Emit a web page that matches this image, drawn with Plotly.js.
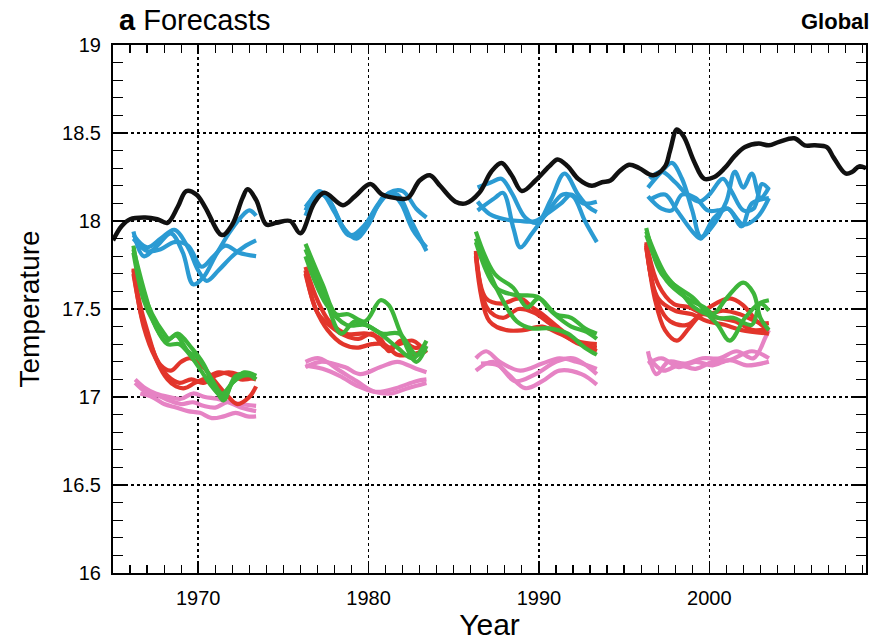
<!DOCTYPE html>
<html>
<head>
<meta charset="utf-8">
<script src="https://cdn.plot.ly/plotly-3.0.1.min.js"></script>
<style>html,body{margin:0;padding:0;background:#fff;}#chart{width:874px;height:641px;}</style>
</head>
<body>
<div id="chart"></div>
<script>
// Observed global temperature (black)
const obsYear = [1965.0,1965.5,1966.0,1966.9,1967.6,1968.2,1968.8,1969.3,1969.9,1970.4,1971.4,1972.0,1972.6,1972.9,1973.4,1974.0,1974.6,1975.4,1976.0,1976.8,1977.4,1978.5,1979.2,1980.1,1980.8,1981.6,1982.3,1983.0,1983.6,1984.2,1985.1,1985.7,1986.5,1987.2,1987.8,1988.4,1989.0,1989.8,1990.6,1991.1,1991.7,1992.3,1993.1,1993.7,1994.2,1994.7,1995.3,1995.9,1996.7,1997.4,1997.7,1998.1,1998.5,1999.1,1999.7,2000.3,2000.9,2001.5,2002.1,2002.9,2003.5,2004.1,2005.0,2005.6,2006.2,2006.9,2007.3,2008.0,2008.4,2008.8,2009.2];
const obsTemp = [17.89,17.97,18.01,18.02,18.01,17.99,18.08,18.17,18.15,18.08,17.92,17.98,18.13,18.18,18.12,17.98,17.99,18.00,17.93,18.10,18.16,18.09,18.14,18.21,18.15,18.13,18.13,18.23,18.26,18.20,18.11,18.10,18.16,18.28,18.33,18.26,18.17,18.23,18.31,18.35,18.31,18.24,18.20,18.22,18.23,18.28,18.32,18.30,18.26,18.31,18.40,18.52,18.48,18.34,18.24,18.25,18.30,18.37,18.42,18.44,18.43,18.45,18.47,18.43,18.43,18.42,18.36,18.27,18.28,18.31,18.30];

// Forecast members: [years, temperatures]
// Blue
const b66a = [[1966.2,1966.8,1967.6,1968.4,1969.1,1969.7,1970.3,1971.0,1971.8,1972.5,1973.0,1973.4],[17.94,17.80,17.86,17.93,17.82,17.64,17.68,17.80,17.93,18.02,18.06,18.03]];
const b66b = [[1966.2,1967.0,1967.8,1968.6,1969.4,1970.0,1970.5,1971.2,1972.0,1972.8,1973.4],[17.92,17.85,17.90,17.95,17.85,17.72,17.66,17.72,17.80,17.86,17.89]];
const b66c = [[1966.2,1967.0,1967.8,1968.6,1969.4,1970.2,1970.9,1971.6,1972.4,1973.4],[17.90,17.83,17.84,17.88,17.86,17.74,17.80,17.86,17.82,17.80]];
const b76a = [[1976.3,1977.0,1977.6,1978.4,1979.0,1979.8,1980.6,1981.3,1981.9,1982.6,1983.4],[18.03,18.15,18.13,17.98,17.92,17.98,18.10,18.16,18.10,17.95,17.85]];
const b76b = [[1976.3,1977.1,1977.8,1978.6,1979.3,1980.0,1980.9,1981.7,1982.5,1983.4],[18.06,18.17,18.10,17.95,17.90,17.98,18.14,18.15,18.00,17.83]];
const b76c = [[1976.3,1977.2,1978.0,1978.8,1979.5,1980.3,1981.2,1982.0,1982.8,1983.4],[18.08,18.16,18.05,17.92,17.93,18.05,18.16,18.17,18.07,18.02]];
const b86a = [[1986.4,1987.2,1987.8,1988.4,1989.2,1989.9,1990.7,1991.5,1992.3,1992.9,1993.4],[18.19,18.22,18.24,18.16,18.02,17.99,18.12,18.27,18.15,18.08,18.05]];
const b86b = [[1986.4,1987.4,1987.9,1988.5,1988.9,1989.6,1990.5,1991.4,1992.0,1992.7,1993.4],[18.06,18.13,18.16,17.96,17.85,17.93,18.05,18.15,18.14,18.00,17.88]];
const b86c = [[1986.4,1987.1,1988.0,1988.9,1989.8,1990.6,1991.3,1991.9,1992.6,1993.4],[18.11,18.04,18.01,18.00,18.00,18.05,18.10,18.15,18.10,18.11]];
const b96a = [[1996.4,1997.2,1997.8,1998.4,1999.0,1999.5,2000.1,2001.0,2001.5,2002.0,2002.5,2003.0,2003.5],[18.19,18.28,18.33,18.24,18.06,17.91,17.96,18.11,18.28,18.19,18.27,18.13,18.19]];
const b96b = [[1996.4,1997.2,1997.8,1998.4,1999.2,1999.9,2000.5,2001.1,2002.0,2002.8,2003.5],[18.14,18.07,18.06,18.15,18.13,18.06,18.06,18.07,17.98,18.02,18.13]];
const b96c = [[1996.5,1997.2,1998.0,1998.7,1999.4,2000.0,2000.8,2001.3,2002.0,2002.6,2003.1,2003.5],[18.24,18.28,18.22,18.15,18.11,18.15,18.24,18.17,18.06,18.07,18.21,18.18]];
const b96d = [[1996.5,1997.4,1998.1,1999.1,1999.5,2000.3,2001.1,2001.9,2002.5,2003.5],[18.12,18.15,18.06,17.93,17.90,18.02,18.07,17.97,18.10,18.13]];
// Red
const r66a = [[1966.2,1966.6,1967.0,1967.6,1968.2,1968.7,1969.2,1969.8,1970.5,1971.2,1971.8,1972.5,1973.3],[17.73,17.52,17.38,17.20,17.10,17.06,17.05,17.08,17.11,17.14,17.13,17.10,17.11]];
const r66b = [[1966.2,1966.7,1967.2,1967.8,1968.4,1969.0,1969.5,1970.2,1970.9,1971.6,1972.3,1973.0,1973.4],[17.70,17.45,17.30,17.18,17.15,17.20,17.22,17.18,17.10,17.02,16.96,17.00,17.06]];
const r66c = [[1966.2,1966.8,1967.5,1968.2,1968.9,1969.6,1970.3,1971.0,1971.8,1972.6,1973.4],[17.72,17.40,17.22,17.12,17.08,17.10,17.08,17.12,17.14,17.12,17.10]];
const r76a = [[1976.3,1977.0,1977.7,1978.7,1979.9,1980.7,1981.2,1981.9,1982.7,1983.4],[17.74,17.55,17.43,17.36,17.36,17.33,17.26,17.32,17.28,17.29]];
const r76b = [[1976.3,1976.9,1977.6,1978.5,1979.3,1980.2,1980.9,1981.7,1982.5,1983.4],[17.70,17.50,17.38,17.30,17.28,17.30,17.30,17.24,17.24,17.27]];
const r76c = [[1976.3,1977.0,1977.8,1978.6,1979.4,1980.2,1981.0,1981.8,1982.6,1983.4],[17.72,17.48,17.40,17.35,17.33,17.36,17.28,17.30,17.32,17.25]];
const r86a = [[1986.3,1986.9,1987.8,1988.9,1989.6,1990.2,1991.2,1992.2,1993.4],[17.83,17.56,17.53,17.56,17.51,17.47,17.39,17.32,17.30]];
const r86b = [[1986.3,1987.1,1988.1,1989.1,1990.2,1991.2,1992.5,1993.4],[17.80,17.43,17.38,17.38,17.40,17.36,17.30,17.26]];
const r86c = [[1986.3,1987.0,1987.9,1988.8,1989.7,1990.6,1991.5,1992.4,1993.4],[17.82,17.50,17.45,17.50,17.48,17.42,17.35,17.30,17.28]];
const r96a = [[1996.3,1996.8,1997.4,1998.1,1998.8,1999.6,2000.5,2001.5,2002.6,2003.5],[17.87,17.56,17.38,17.32,17.39,17.47,17.45,17.43,17.38,17.39]];
const r96b = [[1996.3,1997.0,1997.7,1998.7,1999.7,2001.2,2002.0,2002.8,2003.5],[17.85,17.53,17.43,17.41,17.49,17.56,17.52,17.43,17.38]];
const r96c = [[1996.3,1997.0,1998.0,1999.0,1999.9,2000.9,2001.9,2003.5],[17.86,17.56,17.49,17.47,17.43,17.41,17.38,17.36]];
const r96d = [[1996.3,1997.0,1997.9,1998.8,1999.8,2000.8,2001.8,2003.0,2003.5],[17.88,17.64,17.53,17.51,17.47,17.49,17.47,17.42,17.42]];
// Green
const g66a = [[1966.2,1966.7,1967.3,1968.0,1968.3,1968.8,1969.6,1970.3,1971.0,1971.5,1972.0,1972.6,1973.4],[17.86,17.62,17.47,17.36,17.33,17.36,17.28,17.19,17.05,16.98,17.08,17.12,17.12]];
const g66b = [[1966.2,1966.8,1967.4,1968.1,1968.7,1969.4,1970.0,1970.8,1971.4,1972.0,1972.7,1973.4],[17.82,17.55,17.42,17.32,17.35,17.26,17.22,17.10,17.02,17.08,17.14,17.12]];
const g66c = [[1966.2,1966.9,1967.5,1968.2,1968.9,1969.5,1970.1,1970.8,1971.5,1972.2,1972.9,1973.4],[17.84,17.58,17.40,17.30,17.30,17.24,17.16,17.06,17.00,17.12,17.13,17.10]];
const g76a = [[1976.3,1977.3,1978.1,1978.8,1979.8,1980.7,1981.2,1981.9,1982.8,1983.4],[17.87,17.64,17.47,17.47,17.43,17.55,17.52,17.36,17.20,17.29]];
const g76b = [[1976.3,1977.5,1978.7,1979.8,1980.8,1981.8,1982.8,1983.4],[17.80,17.53,17.41,17.41,17.36,17.36,17.24,17.27]];
const g76c = [[1976.3,1977.4,1978.4,1979.2,1980.4,1981.7,1982.6,1983.4],[17.84,17.58,17.36,17.43,17.38,17.28,17.22,17.32]];
const g86a = [[1986.3,1987.4,1988.5,1989.3,1990.0,1991.0,1991.9,1992.7,1993.4],[17.94,17.70,17.62,17.51,17.56,17.47,17.45,17.39,17.36]];
const g86b = [[1986.3,1987.6,1988.7,1989.6,1990.6,1991.7,1992.7,1993.4],[17.90,17.60,17.43,17.39,17.39,17.36,17.28,17.24]];
const g86c = [[1986.3,1987.5,1988.6,1989.9,1990.8,1991.9,1992.8,1993.4],[17.88,17.62,17.58,17.57,17.48,17.40,17.37,17.33]];
const g96a = [[1996.3,1997.2,1998.2,1999.1,1999.9,2000.5,2001.2,2002.1,2002.9,2003.5],[17.96,17.70,17.62,17.56,17.47,17.41,17.32,17.45,17.53,17.55]];
const g96b = [[1996.3,1997.4,1998.3,1999.1,2000.2,2001.0,2002.0,2002.6,2003.0,2003.5],[17.94,17.70,17.60,17.51,17.47,17.56,17.65,17.59,17.45,17.38]];
const g96c = [[1996.3,1997.5,1998.7,1999.7,2000.5,2001.4,2002.5,2003.0,2003.5],[17.92,17.66,17.56,17.51,17.45,17.45,17.41,17.53,17.49]];
// Pink
const p66a = [[1966.3,1966.9,1967.5,1968.3,1969.0,1969.7,1970.4,1971.1,1971.8,1972.5,1973.4],[17.10,17.05,17.02,17.00,16.99,17.02,17.00,16.99,16.97,16.94,16.92]];
const p66b = [[1966.3,1966.9,1967.6,1968.3,1969.0,1969.7,1970.3,1971.0,1971.7,1972.4,1973.4],[17.08,17.03,17.01,16.98,16.96,16.97,16.95,16.94,16.97,16.96,16.95]];
const p66c = [[1966.6,1967.3,1968.0,1968.7,1969.4,1970.1,1970.8,1971.5,1972.2,1972.9,1973.4],[17.02,17.00,16.96,16.94,16.92,16.91,16.88,16.89,16.91,16.89,16.89]];
const p76a = [[1976.3,1977.1,1978.3,1979.3,1980.4,1981.6,1982.8,1983.4],[17.20,17.22,17.15,17.09,17.03,17.05,17.09,17.10]];
const p76b = [[1976.3,1977.2,1978.6,1979.5,1980.7,1981.7,1982.8,1983.4],[17.17,17.20,17.17,17.13,17.17,17.20,17.16,17.14]];
const p76c = [[1976.3,1977.3,1978.3,1979.4,1980.3,1981.3,1982.3,1983.4],[17.18,17.16,17.12,17.06,17.03,17.02,17.05,17.08]];
const p86a = [[1986.3,1986.9,1987.7,1988.9,1990.2,1991.2,1992.2,1993.4],[17.22,17.26,17.20,17.15,17.19,17.22,17.20,17.16]];
const p86b = [[1986.3,1987.3,1988.2,1989.2,1990.2,1991.2,1992.5,1993.4],[17.15,17.20,17.13,17.05,17.09,17.15,17.13,17.07]];
const p86c = [[1986.6,1987.6,1988.6,1989.8,1991.0,1992.0,1993.4],[17.19,17.18,17.09,17.13,17.20,17.22,17.13]];
const p96a = [[1996.4,1996.9,1997.6,1998.6,1999.6,2000.6,2001.6,2002.6,2003.3,2003.5],[17.26,17.13,17.20,17.19,17.22,17.22,17.26,17.22,17.34,17.38]];
const p96b = [[1996.4,1997.2,1998.2,1999.2,2000.2,2001.2,2002.2,2003.5],[17.19,17.22,17.17,17.20,17.18,17.21,17.18,17.20]];
const p96c = [[1996.5,1997.3,1998.2,1999.2,2000.2,2001.2,2002.5,2003.5],[17.22,17.15,17.18,17.16,17.20,17.21,17.26,17.22]];

const pinkSet = [p66a,p66b,p66c,p76a,p76b,p76c,p86a,p86b,p86c,p96a,p96b,p96c];
const redSet = [r66a,r66b,r66c,r76a,r76b,r76c,r86a,r86b,r86c,r96a,r96b,r96c,r96d];
const greenSet = [g66a,g66b,g66c,g76a,g76b,g76c,g86a,g86b,g86c,g96a,g96b,g96c];
const blueSet = [b66a,b66b,b66c,b76a,b76b,b76c,b86a,b86b,b86c,b96a,b96b,b96c,b96d];

const traces = [];
function addSet(set, color) {
  set.forEach(m => traces.push({x: m[0], y: m[1], type: 'scatter', mode: 'lines',
    line: {color: color, width: 4.2, shape: 'spline', smoothing: 1}, hoverinfo: 'skip'}));
}
addSet(pinkSet, '#e683c4');
addSet(redSet, '#e2352b');
addSet(greenSet, '#3db53a');
addSet(blueSet, '#2b9bd3');
traces.push({x: obsYear, y: obsTemp, type: 'scatter', mode: 'lines',
  line: {color: '#111111', width: 4.5, shape: 'spline', smoothing: 1}, hoverinfo: 'skip'});

const font = 'Liberation Sans, Arial, sans-serif';
const layout = {
  width: 874, height: 641,
  margin: {l: 113, r: 8, t: 45, b: 68},
  paper_bgcolor: '#fff', plot_bgcolor: '#fff',
  showlegend: false,
  font: {family: font, color: '#000'},
  title: {text: '<b>a</b> Forecasts', x: 119/874, xanchor: 'left', xref: 'container',
    y: 1 - 20/641, yref: 'container', yanchor: 'middle', font: {size: 29, family: font, color: '#000'}},
  xaxis: {
    range: [1965, 2009.2], tickmode: 'array', tickvals: [1970, 1980, 1990, 2000],
    ticks: 'inside', ticklen: 9, tickwidth: 1.5, tickcolor: '#000',
    showline: true, linewidth: 2, linecolor: '#000', mirror: 'allticks',
    showgrid: true, gridcolor: '#000', gridwidth: 1.5, griddash: 'dot',
    zeroline: false,
    minor: {dtick: 1, tick0: 1965, ticks: 'inside', ticklen: 8, tickwidth: 1.2, tickcolor: '#000', showgrid: false},
    tickfont: {size: 20, family: font}, ticklabelstandoff: 6,
    title: {text: 'Year', font: {size: 30, family: font}, standoff: 8}
  },
  yaxis: {
    range: [16, 19], tickmode: 'array', tickvals: [16, 16.5, 17, 17.5, 18, 18.5, 19],
    ticktext: ['16', '16.5', '17', '17.5', '18', '18.5', '19'],
    ticks: 'inside', ticklen: 12, tickwidth: 1.5, tickcolor: '#000',
    showline: true, linewidth: 2, linecolor: '#000', mirror: 'allticks',
    showgrid: true, gridcolor: '#000', gridwidth: 1.5, griddash: 'dot',
    zeroline: false,
    minor: {dtick: 0.1, tick0: 16, ticks: 'inside', ticklen: 10, tickwidth: 1.2, tickcolor: '#000', showgrid: false},
    tickfont: {size: 20, family: font}, ticklabelstandoff: 6,
    title: {text: 'Temperature', font: {size: 28, family: font}, standoff: 14}
  },
  annotations: [{text: '<b>Global</b>', xref: 'paper', yref: 'paper', x: 1.006, y: 1 + 24/528,
    xanchor: 'right', yanchor: 'middle', showarrow: false, font: {size: 22, family: font, color: '#000'}}]
};
Plotly.newPlot('chart', traces, layout, {staticPlot: true, displayModeBar: false});
</script>
</body>
</html>
